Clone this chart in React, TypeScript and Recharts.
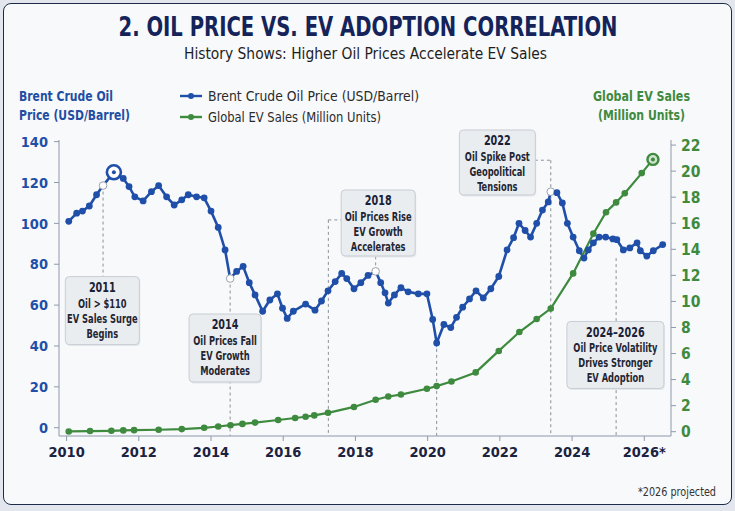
import React from 'react';
import {
    ComposedChart,
    Line,
    XAxis,
    YAxis,
    ReferenceLine,
    ReferenceDot
} from 'recharts';

const NAVY = '#14245a';
const OIL_BLUE = '#1f4fa8';
const EV_GREEN = '#3e8a3e';
const AXIS_GRAY = '#8e99aa';
const DASH_GRAY = '#8a9099';
const FONT = '"Liberation Sans Narrow", "DejaVu Sans Condensed", Roboto, sans-serif';

const yearTicks = [2010, 2012, 2014, 2016, 2018, 2020, 2022, 2024, 2026];
const yearTickLabels = ['2010', '2012', '2014', '2016', '2018', '2020', '2022', '2024', '2026*'];
const oilTicks = [0, 20, 40, 60, 80, 100, 120, 140];
const evTicks = [0, 2, 4, 6, 8, 10, 12, 14, 16, 18, 20, 22];

const oilYears = [
    2010.06, 2010.28, 2010.44, 2010.63, 2010.83, 2011.01, 2011.31, 2011.57, 2011.73, 2011.89,
    2012.12, 2012.35, 2012.55, 2012.77, 2012.98, 2013.19, 2013.37, 2013.6, 2013.81, 2014.0,
    2014.2, 2014.39, 2014.53, 2014.71, 2014.89, 2015.06, 2015.22, 2015.43, 2015.63, 2015.84,
    2015.98, 2016.11, 2016.28, 2016.62, 2016.88, 2017.06, 2017.24, 2017.44, 2017.62, 2017.76,
    2017.96, 2018.15, 2018.35, 2018.56, 2018.7, 2018.82, 2018.91, 2019.08, 2019.26, 2019.46,
    2019.74, 2019.98, 2020.14, 2020.25, 2020.45, 2020.64, 2020.8, 2020.97, 2021.16, 2021.34,
    2021.54, 2021.75, 2021.97, 2022.2, 2022.38, 2022.53, 2022.7, 2022.85, 2023.02, 2023.18,
    2023.34, 2023.41, 2023.58, 2023.73, 2023.87, 2024.03, 2024.2, 2024.33, 2024.45, 2024.59,
    2024.75, 2024.93, 2025.13, 2025.24, 2025.42, 2025.6, 2025.8, 2025.89, 2026.07, 2026.25,
    2026.51
];
const oilPrices = [
    101, 105, 106, 108.5, 114, 118.5, 125, 122, 118, 113,
    111, 115.5, 118.5, 113, 109, 111.5, 114, 113, 112.5, 106,
    98, 87, 73, 76.5, 79, 71, 65, 57, 62.5, 65.5,
    58.5, 53.5, 57, 60.5, 57.5, 62, 67, 71.5, 75.5, 73,
    68, 71, 74.5, 76.5, 71, 66, 61, 65, 68.5, 66.5,
    65.5, 65.5, 53, 41.5, 50.5, 49, 54, 59, 63, 67,
    63.5, 68, 74, 87, 93, 100, 96.5, 93.3, 100, 106.5,
    110.5, 115.5, 115, 110, 100, 93.3, 86.6, 83, 87, 90.5,
    93.3, 93.3, 92.4, 92, 87, 88, 90.5, 86.6, 84, 86.6,
    89.6
];

const evYears = [
    2010.06, 2010.65, 2011.24, 2011.57, 2011.87, 2012.55, 2013.19, 2013.81, 2014.2, 2014.54,
    2014.87, 2015.22, 2015.86, 2016.33, 2016.62, 2016.86, 2017.24, 2017.96, 2018.56, 2018.91,
    2019.26, 2019.98, 2020.25, 2020.66, 2021.33, 2021.97, 2022.54, 2023.02, 2023.41, 2024.03,
    2024.59, 2024.94, 2025.22, 2025.46, 2025.93, 2026.24
];
const evSales = [
    0.02, 0.05, 0.07, 0.1, 0.12, 0.15, 0.2, 0.3, 0.4, 0.5,
    0.6, 0.7, 0.9, 1.05, 1.15, 1.25, 1.45, 1.9, 2.45, 2.7,
    2.85, 3.3, 3.5, 3.85, 4.55, 6.2, 7.65, 8.65, 9.45, 12.15,
    15.2, 16.85, 17.6, 18.3, 19.85, 20.9
];

const oilHollowYears = [2011.01, 2014.53, 2018.56, 2023.41];
const oilPeakYear = 2011.31;
const evEndYear = 2026.24;

const noteTitles = ['2011', '2014', '2018', '2022', '2024–2026'];
const noteLines = [
    ['Oil > $110', 'EV Sales Surge', 'Begins'],
    ['Oil Prices Fall', 'EV Growth', 'Moderates'],
    ['Oil Prices Rise', 'EV Growth', 'Accelerates'],
    ['Oil Spike Post', 'Geopolitical', 'Tensions'],
    ['Oil Price Volatility', 'Drives Stronger', 'EV Adoption']
];
// anchor of each note box (year, oil price) and its size in px
const noteAnchors = [
    { x: 2010.99, y: 57.3, w: 74, h: 68 },
    { x: 2014.39, y: 39.0, w: 72, h: 68 },
    { x: 2018.63, y: 100.2, w: 74, h: 66 },
    { x: 2021.93, y: 129.8, w: 76, h: 65 },
    { x: 2025.2, y: 35.6, w: 97, h: 67 }
];

// dashed leader lines, in (year, oil price)
const BOTTOM = -4;
const leaders = [
    [{ x: 2011.01, y: 118.5 }, { x: 2011.01, y: 74 }],
    [{ x: 2014.53, y: 73 }, { x: 2014.53, y: BOTTOM }],
    [{ x: 2017.25, y: 101.7 }, { x: 2017.25, y: BOTTOM }],
    [{ x: 2017.25, y: 101.7 }, { x: 2017.62, y: 101.7 }],
    [{ x: 2018.56, y: 76.5 }, { x: 2018.56, y: 84 }],
    [{ x: 2020.25, y: 41.5 }, { x: 2020.25, y: BOTTOM }],
    [{ x: 2022.97, y: 130.9 }, { x: 2023.41, y: 130.9 }],
    [{ x: 2023.41, y: 130.9 }, { x: 2023.41, y: BOTTOM }],
    [{ x: 2025.22, y: 83 }, { x: 2025.22, y: BOTTOM }]
];

const oilData = oilYears.map((year, i) => ({ year, price: oilPrices[i] }));
const evData = evYears.map((year, i) => ({ year, sales: evSales[i] }));

const OilDot = (props: any) => {
    const { cx, cy, payload, index } = props;
    if (cx == null || cy == null) return <g key={`o-${index}`} />;
    if (payload.year === oilPeakYear) {
        return (
            <g key={`o-${index}`}>
                <circle cx={cx} cy={cy} r={7} fill="#ffffff" stroke={OIL_BLUE} strokeWidth={2.6} />
                <circle cx={cx} cy={cy} r={2} fill={OIL_BLUE} />
            </g>
        );
    }
    if (oilHollowYears.includes(payload.year)) {
        return <circle key={`o-${index}`} cx={cx} cy={cy} r={3.8} fill="#ffffff" stroke="#9aa2ad" strokeWidth={1} />;
    }
    return <circle key={`o-${index}`} cx={cx} cy={cy} r={3.4} fill={OIL_BLUE} />;
};

const EvDot = (props: any) => {
    const { cx, cy, payload, index } = props;
    if (cx == null || cy == null) return <g key={`e-${index}`} />;
    if (payload.year === evEndYear) {
        return (
            <g key={`e-${index}`}>
                <circle cx={cx} cy={cy} r={5.5} fill="#cfe3cf" stroke={EV_GREEN} strokeWidth={2.4} />
                <circle cx={cx} cy={cy} r={2} fill={EV_GREEN} />
            </g>
        );
    }
    return <circle key={`e-${index}`} cx={cx} cy={cy} r={3.3} fill={EV_GREEN} />;
};

function NoteBox({ cx, cy, w, h, title, lines }: any) {
    const top = cy - h / 2;
    // squeeze the text so it reads like the condensed face of the reference
    const squeeze = `translate(${cx} 0) scale(0.74 1) translate(${-cx} 0)`;
    return (
        <g>
            <rect x={cx - w / 2 + 1} y={top + 1.5} width={w} height={h} rx={4} fill="#d9dde2" opacity={0.6} />
            <rect x={cx - w / 2} y={top} width={w} height={h} rx={4} fill="#eaedf0" stroke="#c8cdd4" />
            <g transform={squeeze}>
                <text x={cx} y={top + 15.5} textAnchor="middle" fontSize={14.5} fontWeight={700} fill="#1a2136" fontFamily={FONT}>
                    {title}
                </text>
                {lines.map((l: string, i: number) => (
                    <text key={i} x={cx} y={top + 31 + i * 15} textAnchor="middle" fontSize={12.5} fontWeight={600} fill="#1f2533" fontFamily={FONT}>
                        {l}
                    </text>
                ))}
            </g>
        </g>
    );
}

export default function App() {
    return (
        <div style={{ position: 'absolute', left: 0, top: 0, width: 735, height: 511, background: '#e3e7ed', fontFamily: FONT }}>
            <div
                style={{
                    position: 'absolute',
                    left: 3,
                    top: 3,
                    width: 729,
                    height: 502,
                    boxSizing: 'border-box',
                    border: '1.5px solid #1e2b4a',
                    borderRadius: 8,
                    background: '#f8f9fb'
                }}
            />
            <div style={{ position: 'absolute', left: 0, top: 0 }}>
                <ComposedChart width={735} height={511} margin={{ top: 140, right: 10, bottom: 45, left: 0 }}>
                    <XAxis
                        dataKey="year"
                        type="number"
                        domain={[2009.79, 2026.74]}
                        ticks={yearTicks}
                        tickFormatter={(v: number, i: number) => yearTickLabels[i] ?? String(v)}
                        allowDataOverflow
                        height={30}
                        stroke={AXIS_GRAY}
                        tickSize={5}
                        tickMargin={6}
                        tick={{ fill: '#1b2340', fontSize: 14.5, fontWeight: 700, fontFamily: FONT }}
                    />
                    <YAxis
                        yAxisId="left"
                        domain={[-4.06, 140.8]}
                        ticks={oilTicks}
                        allowDataOverflow
                        width={59}
                        stroke={AXIS_GRAY}
                        tickSize={5}
                        tickMargin={6}
                        tick={{ fill: OIL_BLUE, fontSize: 14.5, fontWeight: 600, fontFamily: FONT }}
                    />
                    <YAxis
                        yAxisId="right"
                        orientation="right"
                        domain={[-0.33, 22.39]}
                        ticks={evTicks}
                        allowDataOverflow
                        width={54}
                        stroke={AXIS_GRAY}
                        tickSize={5}
                        tickMargin={5}
                        tick={{ fill: EV_GREEN, fontSize: 15.5, fontWeight: 600, fontFamily: FONT }}
                    />
                    {leaders.map((seg, i) => (
                        <ReferenceLine
                            key={`l-${i}`}
                            yAxisId="left"
                            segment={seg}
                            stroke={DASH_GRAY}
                            strokeWidth={1}
                            strokeDasharray="3 3"
                            ifOverflow="extendDomain"
                        />
                    ))}
                    <Line
                        yAxisId="left"
                        data={oilData}
                        dataKey="price"
                        type="linear"
                        stroke={OIL_BLUE}
                        strokeWidth={2.6}
                        dot={OilDot}
                        activeDot={false}
                        isAnimationActive={false}
                    />
                    <Line
                        yAxisId="right"
                        data={evData}
                        dataKey="sales"
                        type="linear"
                        stroke={EV_GREEN}
                        strokeWidth={2.2}
                        dot={EvDot}
                        activeDot={false}
                        isAnimationActive={false}
                    />
                    {noteAnchors.map((a, i) => (
                        <ReferenceDot
                            key={`n-${i}`}
                            yAxisId="left"
                            x={a.x}
                            y={a.y}
                            r={0}
                            ifOverflow="visible"
                            shape={(p: any) => (
                                <NoteBox cx={p.cx} cy={p.cy} w={a.w} h={a.h} title={noteTitles[i]} lines={noteLines[i]} />
                            )}
                        />
                    ))}
                </ComposedChart>
            </div>
            <svg width={735} height={511} style={{ position: 'absolute', left: 0, top: 0, pointerEvents: 'none' }}>
                <g transform="translate(0 36) scale(1 1.12) translate(0 -36)">
                    <text x={368} y={36} textAnchor="middle" fontSize={24} fontWeight={700} fill={NAVY} textLength={499} lengthAdjust="spacingAndGlyphs">
                        2. OIL PRICE VS. EV ADOPTION CORRELATION
                    </text>
                </g>
                <text x={365.5} y={58.5} textAnchor="middle" fontSize={16} fill="#1e1e1e" textLength={363} lengthAdjust="spacingAndGlyphs">
                    History Shows: Higher Oil Prices Accelerate EV Sales
                </text>
                <text x={19} y={101} fontSize={14.5} fontWeight={700} fill="#1f4ea3" textLength={94} lengthAdjust="spacingAndGlyphs">
                    Brent Crude Oil
                </text>
                <text x={19} y={120} fontSize={14.5} fontWeight={700} fill="#1f4ea3" textLength={111} lengthAdjust="spacingAndGlyphs">
                    Price (USD/Barrel)
                </text>
                <text x={641.5} y={101} textAnchor="middle" fontSize={14.5} fontWeight={700} fill={EV_GREEN} textLength={97} lengthAdjust="spacingAndGlyphs">
                    Global EV Sales
                </text>
                <text x={641.5} y={120} textAnchor="middle" fontSize={14.5} fontWeight={700} fill={EV_GREEN} textLength={87} lengthAdjust="spacingAndGlyphs">
                    (Million Units)
                </text>
                <line x1={180} y1={96} x2={202} y2={96} stroke={OIL_BLUE} strokeWidth={2.4} />
                <circle cx={191} cy={96} r={3} fill={OIL_BLUE} />
                <text x={208} y={101} fontSize={14.5} fill="#2b2b2b" textLength={211} lengthAdjust="spacingAndGlyphs">
                    Brent Crude Oil Price (USD/Barrel)
                </text>
                <line x1={180} y1={117} x2={202} y2={117} stroke={EV_GREEN} strokeWidth={2.4} />
                <circle cx={191} cy={117} r={3} fill={EV_GREEN} />
                <text x={208} y={122} fontSize={14.5} fill="#2b2b2b" textLength={173} lengthAdjust="spacingAndGlyphs">
                    Global EV Sales (Million Units)
                </text>
                <text x={716} y={496} textAnchor="end" fontSize={12} fill="#333333" textLength={78} lengthAdjust="spacingAndGlyphs">
                    *2026 projected
                </text>
            </svg>
        </div>
    );
}
